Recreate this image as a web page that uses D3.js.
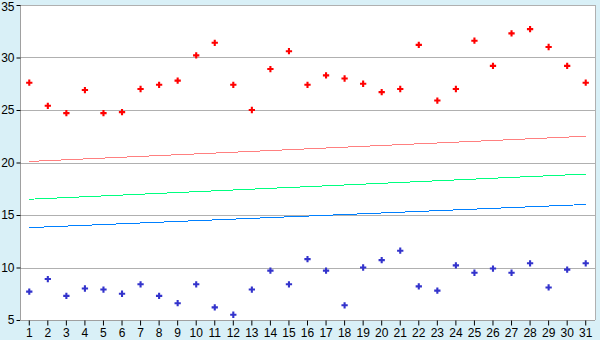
<!DOCTYPE html>
<html lang="en">
<head>
  <meta charset="UTF-8" />
  <script src="https://d3js.org/d3.v7.min.js"></script>
  <title></title>
  <style>
    html, body { margin: 0; padding: 0; background: #d9f0f7; }
    svg { display: block; }
    text { font-family: "Liberation Sans", "DejaVu Sans", sans-serif; fill: #000; }
  </style>
</head>
<body>
<svg id="chart"></svg>
<script>
// data
var days = d3.range(1, 32);
var highs = [27.6, 25.4, 24.7, 26.9, 24.7, 24.8, 27.0, 27.4, 27.8, 30.2,
             31.4, 27.4, 25.0, 28.9, 30.6, 27.4, 28.3, 28.0, 27.5, 26.7,
             27.0, 31.2, 25.9, 27.0, 31.6, 29.2, 32.3, 32.7, 31.0, 29.2, 27.6];
var lows = [7.7, 8.9, 7.3, 8.0, 7.9, 7.5, 8.4, 7.3, 6.6, 8.4,
            6.2, 5.5, 7.9, 9.7, 8.4, 10.8, 9.7, 6.4, 10.0, 10.7,
            11.6, 8.2, 7.8, 10.2, 9.5, 9.9, 9.5, 10.4, 8.1, 9.8, 10.4];
// trend lines: value at day 1 and day 31
var trendNames = ["high", "mid", "low"];
var trendStart = [20.1, 16.5, 13.8];
var trendEnd = [22.5, 18.9, 16.0];
var trendColors = ["#ff8080", "#00ff80", "#0080ff"];
var yTicks = [5, 10, 15, 20, 25, 30, 35];

var W = 600, H = 340;
var m = {left: 20, right: 595, top: 5, bottom: 320};

var svg = d3.select("#chart").attr("width", W).attr("height", H);

var x = d3.scaleBand().domain(days).range([m.left, m.right]);
var y = d3.scaleLinear().domain([5, 35]).range([m.bottom, m.top]);
function cx(d) { return x(d) + x.bandwidth() / 2; }

// plot background
svg.append("rect")
  .attr("x", m.left).attr("y", m.top)
  .attr("width", m.right - m.left).attr("height", m.bottom - m.top)
  .attr("fill", "#fff");

// grid
svg.append("g")
  .selectAll("line")
  .data(yTicks.slice(1))
  .join("line")
    .attr("x1", m.left).attr("x2", m.right)
    .attr("y1", d => Math.round(y(d)) + 0.5).attr("y2", d => Math.round(y(d)) + 0.5)
    .attr("stroke", "#b0b0b0");

// right border
svg.append("line")
  .attr("x1", m.right + 0.5).attr("x2", m.right + 0.5)
  .attr("y1", m.top).attr("y2", m.bottom)
  .attr("stroke", "#b0b0b0");

// trend lines
svg.append("g")
  .selectAll("line")
  .data(trendNames)
  .join("line")
    .attr("x1", cx(1)).attr("x2", cx(31))
    .attr("y1", (d, i) => y(trendStart[i])).attr("y2", (d, i) => y(trendEnd[i]))
    .attr("stroke", (d, i) => trendColors[i])
    .attr("stroke-width", 1)
    .attr("shape-rendering", "crispEdges");

// axes
var yAxis = svg.append("g")
  .attr("transform", "translate(" + (m.left + 0.5) + ",0)")
  .call(d3.axisLeft(y).tickValues(yTicks).tickSize(4).tickPadding(2));
var xAxis = svg.append("g")
  .attr("transform", "translate(0," + (m.bottom + 0.5) + ")")
  .call(d3.axisBottom(x).tickSize(5).tickPadding(3));
[yAxis, xAxis].forEach(function (g) {
  g.select(".domain").attr("stroke", "#a0a0a0");
  g.selectAll(".tick line").attr("stroke", "#000");
  g.selectAll("text").style("font-size", "12px")
    .style("font-family", "'Liberation Sans', sans-serif").attr("fill", "#000");
});
yAxis.select(".domain").attr("d", "M0," + m.top + "V" + m.bottom);
xAxis.select(".domain").attr("d", "M" + m.left + ",0H" + m.right);
// keep the top label inside the picture
yAxis.selectAll(".tick text").filter(d => d === 35).attr("dy", "0.45em");

// markers
var cross = d3.symbol().type(d3.symbolCross).size(22);
svg.append("g")
  .selectAll("path")
  .data(days)
  .join("path")
    .attr("d", cross)
    .attr("transform", (d, i) => "translate(" + cx(d) + "," + y(highs[i]) + ")")
    .attr("fill", "#ff0000");
svg.append("g")
  .selectAll("path")
  .data(days)
  .join("path")
    .attr("d", cross)
    .attr("transform", (d, i) => "translate(" + cx(d) + "," + y(lows[i]) + ")")
    .attr("fill", "#3333cc");
</script>
</body>
</html>
